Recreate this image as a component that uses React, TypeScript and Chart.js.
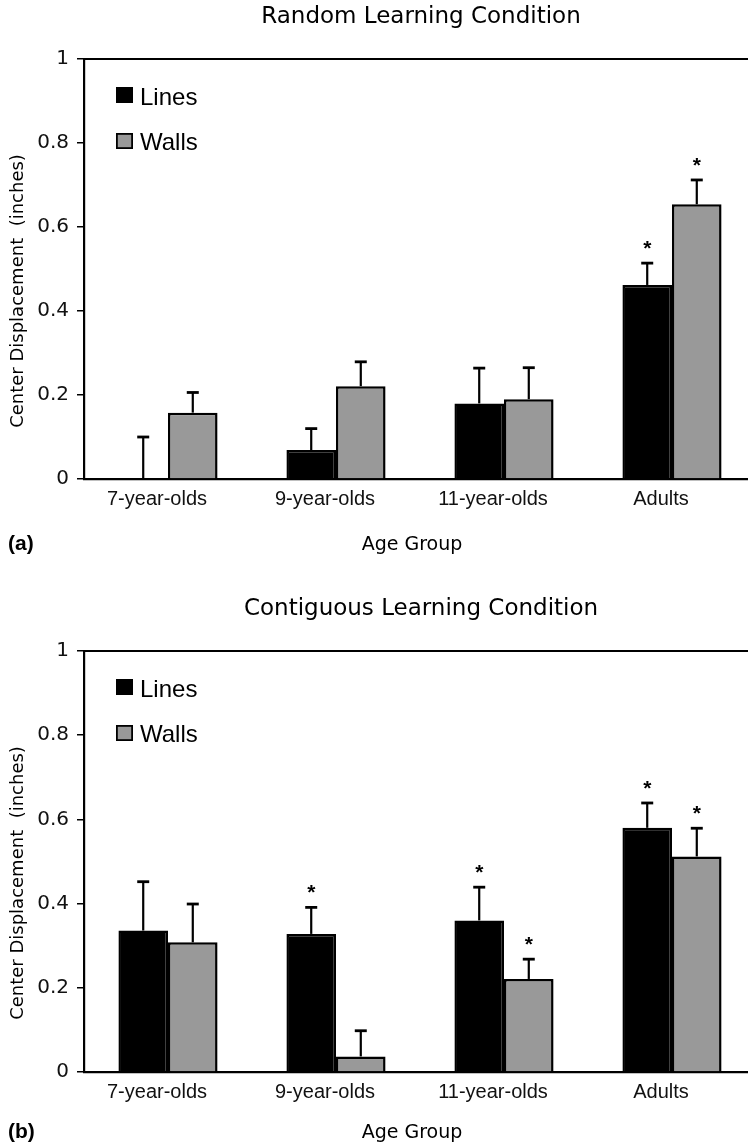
import React, { useEffect, useRef } from "react";
import { Chart, registerables } from "chart.js";

Chart.register(...registerables);

// ---------- data ----------
const categories = ["7-year-olds", "9-year-olds", "11-year-olds", "Adults"];
const yTickLabels = ["0", "0.2", "0.4", "0.6", "0.8", "1"];
const seriesNames = ["Lines", "Walls"];

const randomTitle = "Random Learning Condition";
const randomLines = [0, 0.069, 0.18, 0.462];
const randomLinesErr = [0.1, 0.051, 0.084, 0.052];
const randomWalls = [0.158, 0.221, 0.19, 0.654];
const randomWallsErr = [0.048, 0.058, 0.075, 0.058];
const randomLinesStar = [false, false, false, true];
const randomWallsStar = [false, false, false, true];

const contigTitle = "Contiguous Learning Condition";
const contigLines = [0.336, 0.328, 0.36, 0.58];
const contigLinesErr = [0.116, 0.063, 0.079, 0.059];
const contigWalls = [0.308, 0.037, 0.221, 0.512];
const contigWallsErr = [0.091, 0.061, 0.047, 0.067];
const contigLinesStar = [false, true, true, true];
const contigWallsStar = [false, false, true, true];

const yAxisTitle = "Center Displacement  (inches)";
const xAxisTitle = "Age Group";

// ---------- styles ----------
const DEJAVU = '"DejaVu Sans", sans-serif';
const HELV = '"Liberation Sans", Arial, sans-serif';
const BLACK = "#000000";
const GRAY = "#999999";
const CANVAS_W = 760;

type PanelCfg = {
  title: string;
  tag: string;
  lines: number[];
  linesErr: number[];
  walls: number[];
  wallsErr: number[];
  linesStar: boolean[];
  wallsStar: boolean[];
  bottom: number;
  footGap: number;
};

function buildConfig(cfg: PanelCfg, height: number): any {
  const errs = [cfg.linesErr, cfg.wallsErr];
  const vals = [cfg.lines, cfg.walls];
  const stars = [cfg.linesStar, cfg.wallsStar];

  const extras = {
    id: "extras",
    afterDatasetsDraw(chart: any) {
      const ctx = chart.ctx;
      const y = chart.scales.y;
      ctx.save();
      ctx.strokeStyle = BLACK;
      ctx.fillStyle = BLACK;
      for (let d = 0; d < 2; d++) {
        const meta = chart.getDatasetMeta(d);
        meta.data.forEach((bar: any, i: number) => {
          const x = bar.x;
          const y0 = y.getPixelForValue(vals[d][i]);
          const y1 = y.getPixelForValue(vals[d][i] + errs[d][i]);
          ctx.lineWidth = 2.2;
          ctx.beginPath();
          ctx.moveTo(x, y0);
          ctx.lineTo(x, y1);
          ctx.stroke();
          ctx.lineWidth = 2.8;
          ctx.beginPath();
          ctx.moveTo(x - 6, y1);
          ctx.lineTo(x + 6, y1);
          ctx.stroke();
          if (stars[d][i]) {
            ctx.font = `bold 21px ${HELV}`;
            ctx.textAlign = "center";
            ctx.textBaseline = "alphabetic";
            ctx.fillText("*", x, y1 - 8);
          }
        });
      }
      ctx.restore();
    },
    afterDraw(chart: any) {
      const ctx = chart.ctx;
      const a = chart.chartArea;
      ctx.save();
      ctx.strokeStyle = BLACK;
      ctx.fillStyle = BLACK;
      // top frame line
      ctx.lineWidth = 2;
      ctx.beginPath();
      ctx.moveTo(a.left, a.top);
      ctx.lineTo(a.right, a.top);
      ctx.stroke();

      // title
      ctx.font = `23px ${DEJAVU}`;
      ctx.textAlign = "center";
      ctx.textBaseline = "middle";
      ctx.fillText(cfg.title, 421, 17);

      // y axis title
      ctx.save();
      ctx.translate(18, 291);
      ctx.rotate(-Math.PI / 2);
      ctx.font = `18px ${DEJAVU}`;
      ctx.textAlign = "center";
      ctx.textBaseline = "middle";
      ctx.fillText(yAxisTitle, 0, 0);
      ctx.restore();

      // x axis title
      ctx.font = `19px ${DEJAVU}`;
      ctx.textAlign = "center";
      ctx.textBaseline = "middle";
      ctx.fillText(xAxisTitle, 412, cfg.bottom + cfg.footGap + 1);

      // panel tag
      ctx.font = `bold 21px ${HELV}`;
      ctx.textAlign = "left";
      ctx.textBaseline = "middle";
      ctx.fillText(cfg.tag, 8, cfg.bottom + cfg.footGap);

      // legend
      const boxX = 116;
      const rows = [
        { y: 87, fill: BLACK, label: seriesNames[0], base: 105 },
        { y: 133, fill: GRAY, label: seriesNames[1], base: 150 },
      ];
      rows.forEach((r) => {
        ctx.fillStyle = r.fill;
        ctx.fillRect(boxX, r.y, 17, 16);
        ctx.lineWidth = 1.8;
        ctx.strokeStyle = BLACK;
        ctx.strokeRect(boxX + 0.9, r.y + 0.9, 15.2, 14.2);
        ctx.fillStyle = BLACK;
        ctx.font = `24px ${HELV}`;
        ctx.textAlign = "left";
        ctx.textBaseline = "alphabetic";
        ctx.fillText(r.label, 140, r.base);
      });
      ctx.restore();
    },
  };

  return {
    type: "bar",
    data: {
      labels: categories,
      datasets: [
        {
          label: seriesNames[0],
          data: cfg.lines,
          backgroundColor: BLACK,
          borderColor: BLACK,
          borderWidth: 2.5,
        },
        {
          label: seriesNames[1],
          data: cfg.walls,
          backgroundColor: GRAY,
          borderColor: BLACK,
          borderWidth: 2.5,
        },
      ],
    },
    options: {
      responsive: false,
      animation: false,
      devicePixelRatio: 1,
      layout: { padding: { top: 59, left: 0, right: 4, bottom: 0 } },
      datasets: {
        bar: { categoryPercentage: 0.59, barPercentage: 1 },
      },
      plugins: {
        legend: { display: false },
        title: { display: false },
        tooltip: { enabled: false },
      },
      scales: {
        x: {
          afterFit(s: any) {
            s.height = height - cfg.bottom;
          },
          grid: { display: true, drawOnChartArea: false, drawTicks: false },
          border: { display: true, color: BLACK, width: 2.2 },
          ticks: {
            color: "#111",
            font: { family: HELV, size: 20 },
            padding: 8,
            labelOffset: -11,
            maxRotation: 0,
            autoSkip: false,
          },
        },
        y: {
          min: 0,
          max: 1,
          afterFit(s: any) {
            s.width = 84;
          },
          grid: {
            display: true,
            drawOnChartArea: false,
            drawTicks: true,
            tickLength: 7,
            color: BLACK,
            lineWidth: 1.5,
          },
          border: { display: true, color: BLACK, width: 2.2 },
          ticks: {
            stepSize: 0.2,
            color: "#111",
            font: { family: DEJAVU, size: 20 },
            padding: 8,
            callback: (_v: any, i: number) => yTickLabels[i],
          },
        },
      },
    },
    plugins: [extras],
  };
}

function Panel({ top, height, cfg }: { top: number; height: number; cfg: PanelCfg }) {
  const ref = useRef<HTMLCanvasElement>(null);
  useEffect(() => {
    const chart = new Chart(ref.current as HTMLCanvasElement, buildConfig(cfg, height));
    return () => chart.destroy();
  }, []);
  return (
    <canvas
      ref={ref}
      width={CANVAS_W}
      height={height}
      style={{ position: "absolute", left: 0, top, width: CANVAS_W, height, display: "block" }}
    />
  );
}

const panelA: PanelCfg = {
  title: randomTitle,
  tag: "(a)",
  lines: randomLines,
  linesErr: randomLinesErr,
  walls: randomWalls,
  wallsErr: randomWallsErr,
  linesStar: randomLinesStar,
  wallsStar: randomWallsStar,
  bottom: 479,
  footGap: 65,
};

const panelB: PanelCfg = {
  title: contigTitle,
  tag: "(b)",
  lines: contigLines,
  linesErr: contigLinesErr,
  walls: contigWalls,
  wallsErr: contigWallsErr,
  linesStar: contigLinesStar,
  wallsStar: contigWallsStar,
  bottom: 480,
  footGap: 60,
};

export default function App() {
  return (
    <div
      style={{
        position: "absolute",
        left: 0,
        top: 0,
        width: 748,
        height: 1144,
        overflow: "hidden",
        background: "#ffffff",
      }}
    >
      <Panel top={0} height={592} cfg={panelA} />
      <Panel top={592} height={552} cfg={panelB} />
    </div>
  );
}
